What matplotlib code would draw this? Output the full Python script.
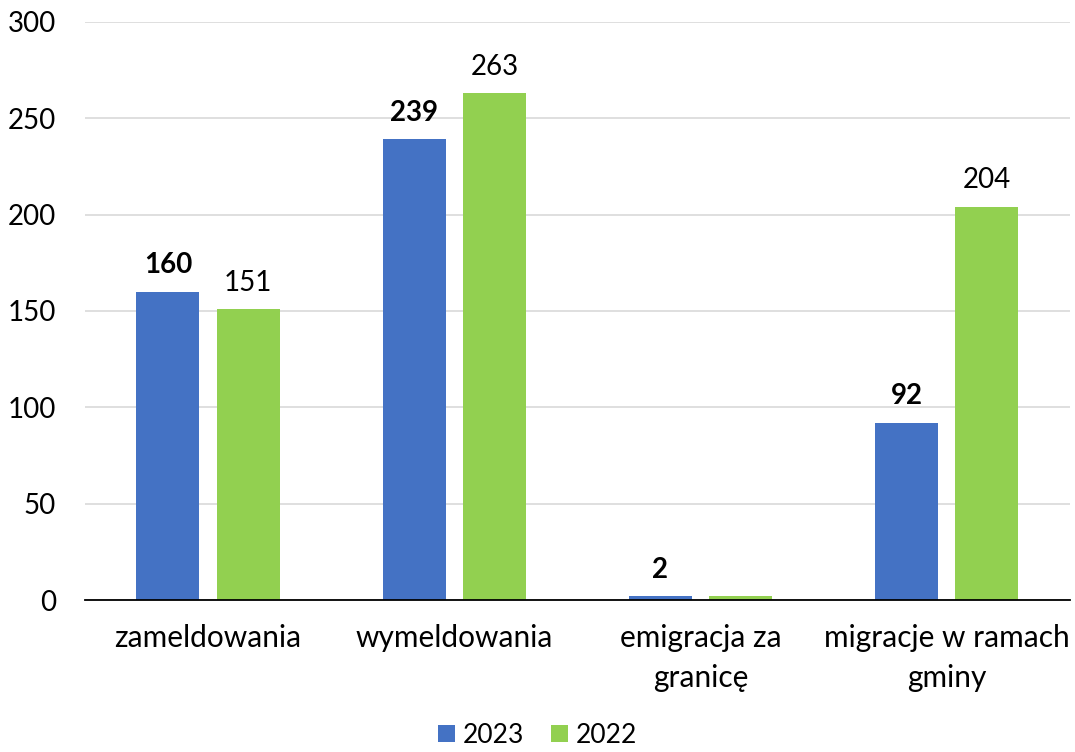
import matplotlib.pyplot as plt
import numpy as np

plt.rcParams['font.family'] = ['Lato', 'DejaVu Sans']

categories = ["zameldowania", "wymeldowania", "emigracja za\ngranicę", "migracje w ramach\ngminy"]
v2023 = [160, 239, 2, 92]
v2022 = [151, 263, 2, 204]
labels2022 = ["151", "263", "", "204"]

blue = "#4472C4"
green = "#92D050"

fig = plt.figure(figsize=(10.75, 7.52), dpi=100)
ax = fig.add_axes([0.079, 0.202, 0.916, 0.769])

x = np.arange(len(categories))
w = 0.256
off = 0.163
b1 = ax.bar(x - off, v2023, w, color=blue, label="2023", zorder=3)
b2 = ax.bar(x + off, v2022, w, color=green, label="2022", zorder=3)

for xi, v in zip(x, v2023):
    ax.text(xi - off, v + 7, str(v), ha="center", va="bottom", fontsize=20, fontweight="bold")
for xi, v, lab in zip(x, v2022, labels2022):
    if lab:
        ax.text(xi + off, v + 7, lab, ha="center", va="bottom", fontsize=20)

ax.set_xlim(-0.5, 3.5)
ax.set_ylim(0, 300)
ax.set_yticks(np.arange(0, 301, 50))
ax.yaxis.grid(True, color="#D9D9D9", linewidth=1.2, zorder=0)
ax.set_axisbelow(True)
for s in ["top", "right", "left"]:
    ax.spines[s].set_visible(False)
ax.spines["bottom"].set_color("black")
ax.spines["bottom"].set_linewidth(1.3)
ax.spines["bottom"].set_zorder(4)
ax.tick_params(axis="y", length=0, labelsize=20, pad=21)
ax.set_xticks(x)
ax.set_xticklabels(categories, linespacing=1.55)
ax.tick_params(axis="x", length=0, labelsize=21.5, pad=17)

fig.legend(handles=[b1, b2], loc="lower center", bbox_to_anchor=(0.5, -0.026), ncol=2,
           frameon=False, fontsize=19, handlelength=0.65, handleheight=0.65,
           handletextpad=0.3, columnspacing=1.0)

fig.savefig("out.png", dpi=100)
